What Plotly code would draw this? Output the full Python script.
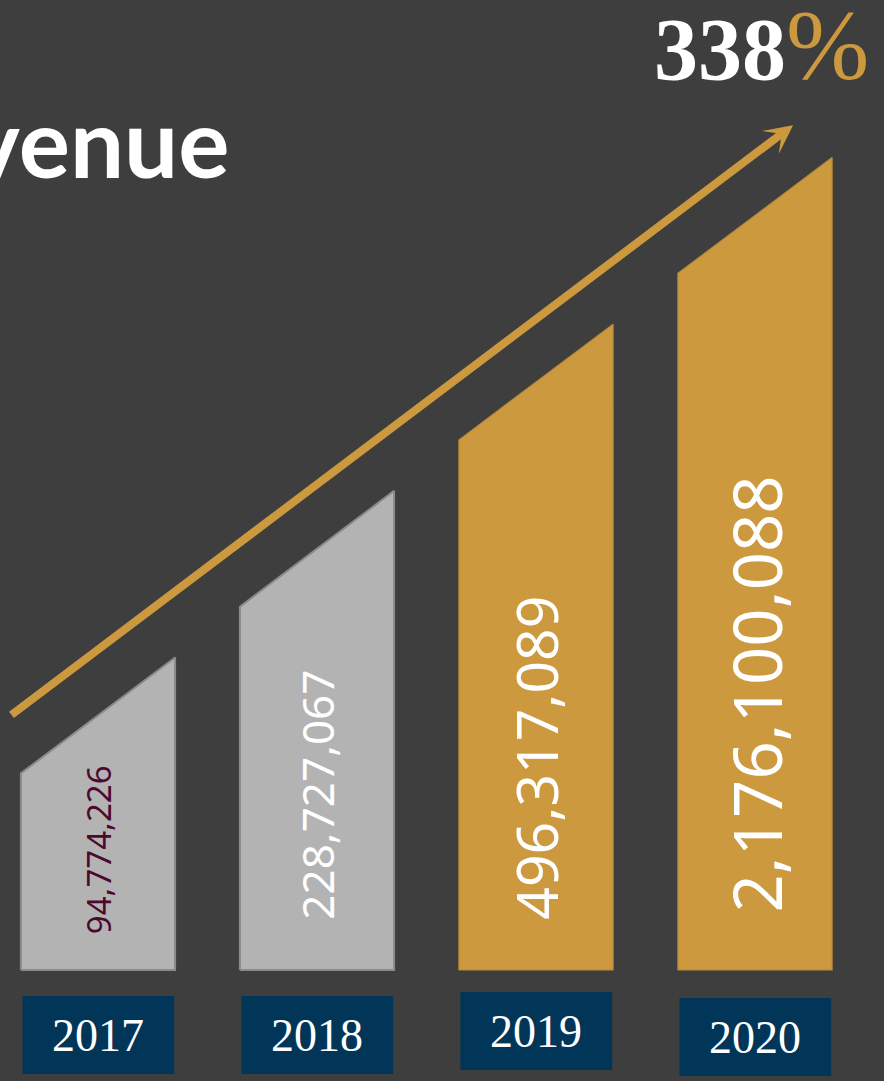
import plotly.graph_objects as go

# ---- data ----
years = ["2017", "2018", "2019", "2020"]
revenue = [94774226, 228727067, 496317089, 2176100088]
bar_level = [1, 2, 3, 4]          # stylised step height of each bar (not to scale)
growth_value = "338"
growth_unit = "%"
title_text = "Revenue"

# ---- style ----
W, H = 884, 1081
BG = "#3e3e3e"
GOLD = "#cd993e"
GRAY = "#b3b3b3"
BLUE = "#023658"
bar_fill = [GRAY, GRAY, GOLD, GOLD]
bar_edge = ["#8a8a8a", "#8a8a8a", "#b88a3a", "#b88a3a"]
label_color = ["#4d0830", "white", "white", "white"]
label_size = [33, 44, 57, 67]
label_lift = [0.2, 0.29, 0.29, 0.33]
HALF = 0.352        # half bar width (x units)
BASE = 0.18         # extra height at bar's left edge
SLANT = 0.695       # rise of slanted top across a bar
box_shift = [0, 0, 0.024, -0.012]

fig = go.Figure()

for i, (lvl, yr) in enumerate(zip(bar_level, years)):
    xl, xr = i - HALF, i + HALF
    fig.add_trace(go.Scatter(
        x=[xl, xl, xr, xr, xl],
        y=[0, lvl + BASE, lvl + BASE + SLANT, 0, 0],
        mode="lines", fill="toself", fillcolor=bar_fill[i],
        line=dict(color=bar_edge[i], width=2 if i < 2 else 1.2),
        hoverinfo="skip", showlegend=False,
    ))
    # value label (rotated)
    fig.add_annotation(
        x=i, y=label_lift[i], xref="x", yref="y", text=f"{revenue[i]:,}",
        textangle=-90, showarrow=False, xanchor="center", yanchor="bottom",
        font=dict(family="Noto Sans", size=label_size[i], color=label_color[i]),
    )
    # year box
    y0, y1 = -0.624 + box_shift[i], -0.156 + box_shift[i]
    fig.add_shape(type="rect", xref="x", yref="y", x0=i - 0.345, x1=i + 0.348,
                  y0=y0, y1=y1, fillcolor=BLUE, line=dict(width=0), layer="below")
    fig.add_annotation(
        x=i, y=(y0 + y1) / 2, xref="x", yref="y", text=yr, showarrow=False,
        font=dict(family="Liberation Serif", size=46, color="white"),
    )

# growth arrow
fig.add_annotation(
    x=3.174, y=5.069, xref="x", yref="y",
    ax=-0.402, ay=1.524, axref="x", ayref="y",
    text="", showarrow=True, arrowhead=3, arrowsize=0.6, arrowwidth=8,
    arrowcolor=GOLD, standoff=0,
)

# title (cropped on the left as in the original)
fig.add_annotation(
    x=232 / W, y=1 - 200 / H, xref="paper", yref="paper", text=f"<b>{title_text}</b>",
    showarrow=False, xanchor="right", yanchor="bottom",
    font=dict(family="Lato", size=96, color="white"),
)
# growth figure
fig.add_annotation(
    x=788 / W, y=1 - 100 / H, xref="paper", yref="paper", text=f"<b>{growth_value}</b>",
    showarrow=False, xanchor="right", yanchor="bottom",
    font=dict(family="Liberation Serif", size=88, color="white"),
)
fig.add_annotation(
    x=784 / W, y=1 - 102 / H, xref="paper", yref="paper", text=growth_unit,
    showarrow=False, xanchor="left", yanchor="bottom",
    font=dict(family="Liberation Serif", size=100, color=GOLD),
)

fig.update_layout(
    width=W, height=H, margin=dict(l=0, r=0, t=0, b=0),
    paper_bgcolor=BG, plot_bgcolor=BG, showlegend=False,
    xaxis=dict(range=[-98 / 219, (W - 98) / 219], visible=False, fixedrange=True),
    yaxis=dict(range=[(970 - H) / 166.67, 970 / 166.67], visible=False, fixedrange=True),
)

fig.write_html("out.html", config={"displayModeBar": False},
               post_script="document.body.style.margin='0px';document.body.style.background='%s';" % BG)
